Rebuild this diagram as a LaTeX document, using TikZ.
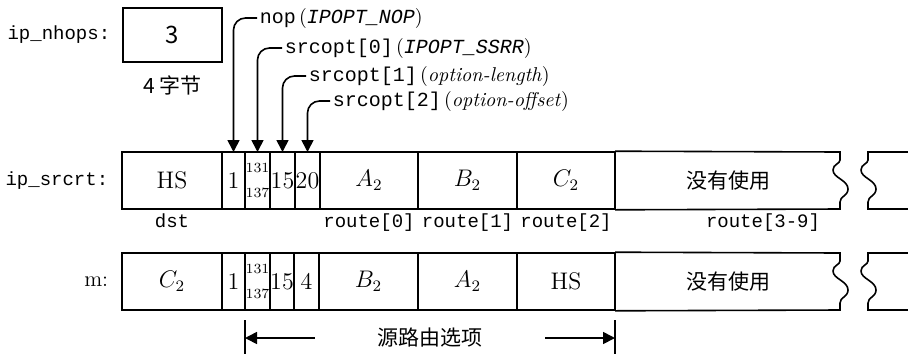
\documentclass[tikz,border=0pt]{standalone}
\usepackage{fontspec}
\setmonofont{Liberation Mono}
\newfontfamily\cjk{Noto Sans CJK SC}
\usetikzlibrary{positioning,arrows.meta}

\begin{document}
\begin{tikzpicture}[x=0.5pt,y=-0.5pt,>={Triangle[length=6pt,width=6pt]},
  line width=0.8pt,
  cell/.style={draw,inner sep=0pt,outer sep=0pt,minimum height=28.5pt,
               anchor=west,font=\fontsize{12}{14}\selectfont},
  tag/.style={font=\fontsize{9.5}{11}\selectfont\ttfamily,inner sep=1pt},
  han/.style={font=\cjk\fontsize{10.5}{12}\selectfont},
  small/.style={font=\fontsize{7}{8}\selectfont,align=center}]

  \useasboundingbox (0,0) rectangle (908,354);

  % ip_nhops
  \node[cell,minimum width=49.5pt,minimum height=27pt,
        font=\cjk\fontsize{12}{14}\selectfont] (nhops) at (123,35) {3};
  \node[tag,anchor=east] (nhopsname) at (113,35) {ip\_nhops:};
  \node[han,below=3pt of nhops] (nhopsize) {4 字节};

  % ip_srcrt row
  \node[tag,anchor=east] (srcrtname) at (111,180.5) {ip\_srcrt:};
  \foreach \nm/\x/\w/\txt in {hs/122/100/HS, one/222/23/1, sr/245/25/{},
      len/270/25/15, off/295/25/20, ra/320/98/{$A_2$}, rb/418/99/{$B_2$},
      rc/517/98/{$C_2$}} {
    \node[cell,minimum width=\w*0.5pt] (s\nm) at (\x,180.5) {\txt};
  }
  \node[small] at (ssr) {131\\[4.5pt]137};
  \node[han,anchor=west,minimum width=112.5pt,minimum height=28.5pt,
        inner sep=0pt] (sfree) at (615,180.5) {没有使用};

  \node[tag,below=1pt of shs] (dst) {dst};
  \node[tag,below=1pt of sra] (rt0) {route[0]};
  \node[tag,below=1pt of srb] (rt1) {route[1]};
  \node[tag,below=1pt of src] (rt2) {route[2]};
  \node[tag] (rt39) at (763,223) {route[3-9]};

  % m row
  \node[anchor=east,font=\fontsize{11}{13}\selectfont,inner sep=1pt]
    (mname) at (111,281.5) {m:};
  \foreach \nm/\x/\w/\txt in {hs/122/100/{$C_2$}, one/222/23/1, sr/245/25/{},
      len/270/24/15, off/294/25/4, ra/319/99/{$B_2$}, rb/418/99/{$A_2$},
      rc/517/98/HS} {
    \node[cell,minimum width=\w*0.5pt] (m\nm) at (\x,281.5) {\txt};
  }
  \node[small] at (msr) {131\\[4.5pt]137};
  \node[han,anchor=west,minimum width=112.5pt,minimum height=28.5pt,
        inner sep=0pt] (mfree) at (615,281.5) {没有使用};

  % torn ends
  \foreach \yt/\rw in {152/s, 253/m} {
    \draw (\rw free.north west) -- (840,\yt) -- (840,\yt+8)
      .. controls (840,\yt+12) and (833,\yt+12) .. (833,\yt+18)
      .. controls (833,\yt+26) and (848,\yt+28) .. (848,\yt+37)
      .. controls (848,\yt+44) and (840,\yt+44) .. (840,\yt+50)
      -- (840,\yt+57) -- (\rw free.south west);
    \draw (908,\yt) -- (868,\yt) -- (868,\yt+8)
      .. controls (868,\yt+12) and (861,\yt+12) .. (861,\yt+18)
      .. controls (861,\yt+26) and (876,\yt+28) .. (876,\yt+37)
      .. controls (876,\yt+44) and (868,\yt+44) .. (868,\yt+50)
      -- (868,\yt+57) -- (908,\yt+57);
  }

  % callouts
  \node[inner sep=1pt,anchor=west] (nop) at (257,18)
    {{\ttfamily nop}\,(\textit{\ttfamily IPOPT\_NOP})};
  \node[inner sep=1pt,anchor=west] (opt0) at (282,48)
    {{\ttfamily srcopt[0]}\,(\textit{\ttfamily IPOPT\_SSRR})};
  \node[inner sep=1pt,anchor=west] (opt1) at (306,76)
    {{\ttfamily srcopt[1]}\,(\textit{option-length})};
  \node[inner sep=1pt,anchor=west] (opt2) at (330,101)
    {{\ttfamily srcopt[2]}\,(\textit{option-offset})};
  \draw[->,rounded corners=6pt] (nop.west) -| (sone.north);
  \draw[->,rounded corners=6pt] (opt0.west) -| (ssr.north);
  \draw[->,rounded corners=6pt] (opt1.west) -| (slen.north);
  \draw[->,rounded corners=6pt] (opt2.west) -| (soff.north);

  % source route option span
  \node[han,inner xsep=31pt] (optspan) at (430,338) {源路由选项};
  \draw (245,320) -- (245,354);
  \draw (615,320) -- (615,354);
  \coordinate (spanl) at (245,338);
  \coordinate (spanr) at (615,338);
  \draw[->] (optspan.west) -- (spanl);
  \draw[->] (optspan.east) -- (spanr);

\end{tikzpicture}
\end{document}
